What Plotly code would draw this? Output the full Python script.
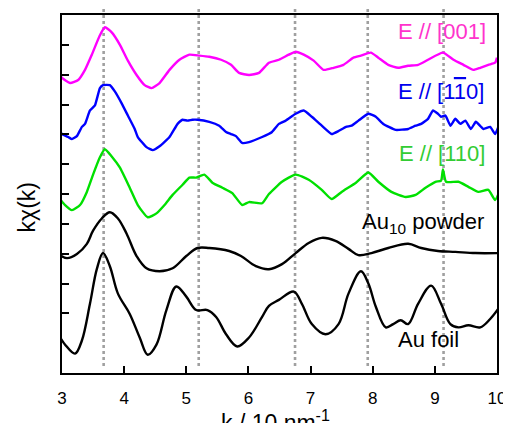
import plotly.graph_objects as go

# ---------------- data (k in 10 nm^-1, kchi(k) in arbitrary offset units) ----------------
k_001 = [2.94, 3.00, 3.13, 3.26, 3.37, 3.48, 3.61, 3.69, 3.80, 3.93, 4.06, 4.20, 4.33, 4.44, 4.57,
         4.73, 4.89, 5.05, 5.21, 5.37, 5.56, 5.72, 5.85, 6.01, 6.17, 6.33, 6.49, 6.65, 6.76, 6.89,
         7.05, 7.21, 7.37, 7.53, 7.69, 7.81, 7.97, 8.09, 8.25, 8.41, 8.57, 8.73, 8.89, 9.13, 9.30,
         9.46, 9.62, 9.73, 9.86, 9.97, 10.00]
y_001 = [10.06, 9.89, 9.72, 9.82, 10.16, 10.67, 11.32, 11.59, 11.42, 11.01, 10.47, 9.99, 9.65, 9.55, 9.72,
         10.16, 10.50, 10.67, 10.64, 10.60, 10.50, 10.33, 10.06, 9.99, 10.06, 10.40, 10.50, 10.67, 10.77, 10.67,
         10.47, 10.16, 10.23, 10.33, 10.57, 10.64, 10.74, 10.57, 10.33, 10.23, 10.30, 10.33, 10.50, 10.74, 10.50,
         10.33, 10.16, 10.23, 10.33, 10.40, 10.57]

k_1m10 = [2.94, 3.00, 3.10, 3.16, 3.24, 3.32, 3.37, 3.45, 3.53, 3.61, 3.66, 3.77, 3.85, 3.96, 4.06,
          4.17, 4.22, 4.36, 4.46, 4.57, 4.73, 4.86, 4.94, 5.02, 5.10, 5.18, 5.37, 5.53, 5.64, 5.72,
          5.80, 5.90, 6.01, 6.22, 6.38, 6.49, 6.60, 6.76, 6.89, 7.02, 7.18, 7.34, 7.45, 7.57, 7.66,
          7.77, 7.93, 8.05, 8.17, 8.37, 8.57, 8.69, 8.78, 8.89, 8.97, 9.05, 9.10, 9.17, 9.25, 9.33,
          9.41, 9.49, 9.58, 9.66, 9.78, 9.89, 9.97, 10.05]
y_1m10 = [8.18, 8.01, 7.91, 7.84, 7.94, 8.25, 8.35, 8.80, 8.97, 9.55, 9.65, 9.65, 9.44, 9.04, 8.63,
          8.18, 7.91, 7.57, 7.47, 7.60, 7.91, 8.35, 8.49, 8.46, 8.49, 8.49, 8.42, 8.29, 8.08, 8.01,
          7.94, 7.71, 7.74, 7.91, 8.08, 8.35, 8.46, 8.69, 8.80, 8.59, 8.29, 8.01, 8.11, 8.25, 8.29,
          8.46, 8.69, 8.59, 8.35, 8.15, 8.18, 8.29, 8.35, 8.52, 8.80, 8.69, 8.59, 8.63, 8.29, 8.52,
          8.35, 8.46, 8.18, 8.42, 8.18, 8.25, 8.01, 8.42]

k_110 = [2.94, 3.05, 3.16, 3.29, 3.40, 3.50, 3.61, 3.69, 3.80, 3.93, 4.09, 4.22, 4.38, 4.52, 4.65,
         4.78, 4.94, 5.05, 5.16, 5.29, 5.42, 5.58, 5.74, 5.90, 6.01, 6.22, 6.33, 6.54, 6.76, 6.97,
         7.18, 7.34, 7.50, 7.73, 7.93, 8.09, 8.30, 8.53, 8.69, 8.85, 9.01, 9.10, 9.13, 9.18, 9.38,
         9.54, 9.70, 9.86, 9.97, 10.05]
y_110 = [5.90, 5.63, 5.46, 5.63, 6.07, 6.65, 7.23, 7.50, 7.26, 6.89, 6.21, 5.63, 5.22, 5.35, 5.63,
         5.97, 6.31, 6.55, 6.55, 6.65, 6.38, 6.21, 6.03, 5.63, 5.73, 5.69, 6.00, 6.41, 6.65, 6.48,
         6.14, 5.83, 6.07, 6.38, 6.72, 6.41, 6.07, 5.90, 5.97, 6.21, 6.41, 6.45, 6.82, 6.41, 6.41,
         6.24, 6.07, 6.14, 5.80, 6.14]

k_au10 = [2.94, 3.08, 3.24, 3.40, 3.50, 3.64, 3.77, 3.90, 4.04, 4.20, 4.36, 4.57, 4.78, 5.00, 5.18,
          5.37, 5.69, 5.88, 6.12, 6.33, 6.54, 6.76, 6.97, 7.18, 7.40, 7.61, 7.77, 7.98, 8.25, 8.57,
          8.78, 9.05, 9.33, 9.65, 10.02]
y_au10 = [3.99, 3.85, 3.99, 4.33, 4.77, 5.18, 5.39, 5.18, 4.67, 3.92, 3.51, 3.41, 3.51, 3.92, 4.19,
          4.19, 4.09, 3.92, 3.58, 3.48, 3.65, 4.02, 4.36, 4.53, 4.43, 4.16, 3.95, 4.02, 4.19, 4.33,
          4.19, 4.09, 4.06, 4.02, 4.02]

k_foil = [2.94, 3.05, 3.21, 3.32, 3.45, 3.56, 3.66, 3.77, 3.90, 4.09, 4.25, 4.38, 4.52, 4.68, 4.84,
          5.00, 5.16, 5.34, 5.48, 5.64, 5.82, 6.01, 6.22, 6.33, 6.49, 6.73, 6.86, 7.02, 7.24, 7.45,
          7.61, 7.81, 7.93, 8.05, 8.21, 8.33, 8.45, 8.57, 8.73, 8.94, 9.10, 9.25, 9.38, 9.54, 9.73,
          9.89, 10.02]
y_foil = [1.30, 0.95, 0.65, 1.09, 2.32, 3.48, 4.02, 3.58, 2.66, 1.98, 1.19, 0.61, 0.95, 2.11, 2.90,
          2.56, 2.11, 2.11, 1.88, 1.30, 0.89, 1.19, 1.88, 2.25, 2.45, 2.73, 2.32, 1.64, 1.30, 1.64,
          2.66, 3.41, 3.00, 2.22, 1.53, 1.64, 1.77, 1.64, 2.32, 2.93, 2.32, 1.64, 1.53, 1.60, 1.53,
          1.81, 2.15]

guide_k = [3.67, 5.20, 6.75, 7.92, 9.14]
x_ticks = [3, 4, 5, 6, 7, 8, 9, 10]
y_ticks = [2, 3, 4, 5, 6, 7, 8, 9, 10, 11]

series = [
    (k_001, y_001, "#FF00FF", 0.5),
    (k_1m10, y_1m10, "#0000FF", 0.4),
    (k_110, y_110, "#00E000", 0.5),
    (k_au10, y_au10, "#000000", 1.0),
    (k_foil, y_foil, "#000000", 1.0),
]

FONT = "Liberation Sans, Arial, sans-serif"

fig = go.Figure()
for kx, yy, col, sm in series:
    fig.add_trace(go.Scatter(x=kx, y=yy, mode="lines",
                             line=dict(color=col, width=2.4, shape="spline", smoothing=sm),
                             showlegend=False))

# plot area in page pixels: x 62..499, y 13..365 (page body has an 8px margin)
def px(x):
    return (x - 62) / 437.0

def py(y):
    return (365 - y) / 352.0

for g in guide_k:
    fig.add_shape(type="line", xref="x", yref="paper", x0=g, x1=g, y0=py(358), y1=py(7),
                  line=dict(color="#A0A0A0", width=2.6, dash="dot"), layer="below")

ann = [
    ("E // [001]", "#FF33CC", 490, 29),
    ("E // [1<span style='text-decoration:overline'>1</span>0]", "#0000EE", 488, 88),
    ("E // [110]", "#33CC33", 489, 149),
    ("Au<sub>10</sub> powder", "#000000", 488, 218),
    ("Au foil", "#000000", 463, 332),
]
for txt, col, x, y in ann:
    fig.add_annotation(text=txt, xref="paper", yref="paper", x=px(x), y=py(y),
                       xanchor="right", yanchor="middle", showarrow=False,
                       font=dict(family=FONT, size=22, color=col))

fig.add_annotation(text="k / 10 nm<sup>-1</sup>", xref="paper", yref="paper",
                   x=px(276), y=py(412), xanchor="center", yanchor="middle", showarrow=False,
                   font=dict(family=FONT, size=23, color="#000000"))
fig.add_annotation(text="kχ(k)", xref="paper", yref="paper", x=px(27), y=py(202),
                   xanchor="center", yanchor="middle", textangle=-90, showarrow=False,
                   font=dict(family=FONT, size=23, color="#000000"))

fig.update_xaxes(range=[3, 10], tickvals=x_ticks, ticks="inside", ticklen=7, tickwidth=1.5,
                 tickcolor="black", showline=True, linecolor="black", linewidth=1.5, mirror=True,
                 showgrid=False, zeroline=False, ticklabelstandoff=9,
                 tickfont=dict(family=FONT, size=17, color="black"))
fig.update_yaxes(range=[0, 12], tickvals=y_ticks, showticklabels=False, ticks="inside", ticklen=7,
                 tickwidth=1.5, tickcolor="black", showline=True, linecolor="black", linewidth=1.5,
                 mirror=True, showgrid=False, zeroline=False)

fig.update_layout(width=503, height=415, margin=dict(l=54, r=12, t=5, b=50),
                  paper_bgcolor="white", plot_bgcolor="white", showlegend=False)

fig.write_html("out.html")
